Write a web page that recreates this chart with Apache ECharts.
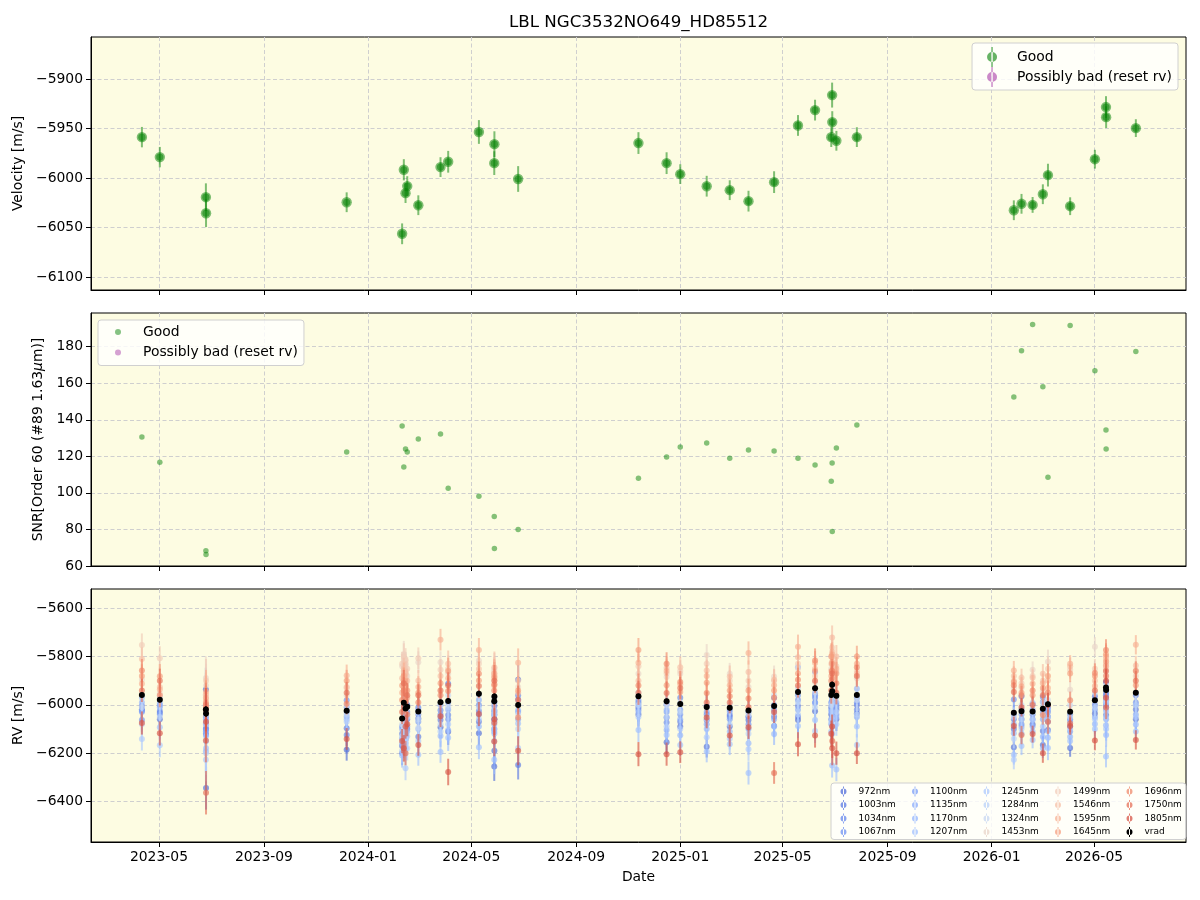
<!DOCTYPE html>
<html><head><meta charset="utf-8">
<script src="https://cdn.jsdelivr.net/npm/echarts@6/dist/echarts.min.js"></script>
<style>html,body{margin:0;padding:0;background:#fff}#c{width:1200px;height:900px}</style>
</head><body><div id="c"></div>
<script>
// ---------------- DATA ----------------
const dates = ['2023-04-11','2023-05-02','2023-06-25T00','2023-06-25T04','2023-12-07','2024-02-10','2024-02-12','2024-02-14','2024-02-16','2024-02-29',
  '2024-03-26','2024-04-04','2024-05-10','2024-05-28T00','2024-05-28T04','2024-06-25','2024-11-13','2024-12-16','2025-01-01','2025-02-01',
  '2025-02-28','2025-03-22','2025-04-21','2025-05-19','2025-06-08','2025-06-27','2025-06-28T00','2025-06-28T04','2025-07-03','2025-07-27',
  '2026-01-27','2026-02-05','2026-02-18','2026-03-02','2026-03-08','2026-04-03','2026-05-02','2026-05-15T00','2026-05-15T04','2026-06-19'];
const velocity = [-5958.7,-5978.9,-6019.4,-6035.6,-6024.5,-6056.4,-5991.7,-6015.3,-6008.2,-6027.5,
  -5989.0,-5983.6,-5953.5,-5985.0,-5965.8,-6001.0,-5964.7,-5985.0,-5996.1,-6008.3,
  -6012.3,-6023.4,-6004.2,-5946.9,-5931.4,-5958.7,-5916.2,-5943.5,-5962.4,-5958.7,
  -6032.6,-6026.1,-6027.2,-6016.4,-5997.1,-6028.5,-5981.0,-5928.3,-5938.5,-5949.6];
const velocityErr = [10.3,10.3,14,14,10,10.5,10.7,10,10,10, 10,11,12,12,13,13,11,11,10,10.5,
  10,10.5,11,10.5,10.5,10,12.6,11,10,10, 10,10,8,10,11.5,9,9.5,11,11,9];
const snr = [130.5,116.8,68.3,66.3,122.3,136.6,114.1,124.0,122.3,129.5, 132.2,102.5,98.1,87.1,69.6,80.0,108.0,119.6,125.1,127.3,
  119.0,123.4,122.9,119.0,115.2,106.4,116.3,78.9,124.5,137.1, 152.5,177.8,192.1,158.0,108.6,191.5,166.8,134.4,124.0,177.3];

const bandNames = ['972nm','1003nm','1034nm','1067nm','1100nm','1135nm','1170nm','1207nm','1245nm','1284nm','1324nm','1453nm','1499nm','1546nm','1595nm','1645nm','1696nm','1750nm','1805nm'];
const rv972  = [-6019,-6060,-5936,-6344,-6186,-6170,-6060,-6130,-6100,-6056,-6093,-6111,-6118,-6255,-6190,-5896,-6040,-6155,-6090,-6173,-6090,-6063,-6088,-6063,-6026,-6040,-6000,-6050,-6060,-6036,-6175,-6060,-6080,-6166,-6104,-6179,-6036,-5905,-6042,-6060];
const rv1003 = [-6025,-6033,-6050,-6080,-6097,-6120,-6020,-6050,-6000,-6132,-6063,-5912,-6070,-6042,-6005,-6249,-6011,-6052,-6070,-6063,-6042,-6049,-6049,-6049,-5953,-6010,-5960,-5990,-6020,-6001,-6100,-5964,-5995,-6108,-6049,-6090,-5964,-5960,-5980,-6019];
const rv1034 = [-6005,-6025,-6100,-6125,-6125,-6200,-6080,-6100,-6060,-6011,-6022,-6042,-6025,-6100,-6030,-5960,-5990,-6073,-5970,-6005,-6049,-6030,-5970,-6005,-5990,-6060,-5990,-6030,-6000,-6020,-6060,-6020,-6040,-5988,-6010,-6060,-6000,-6000,-5950,-5960];
const rv1067 = [-6063,-6000,-6120,-6097,-5981,-6090,-6000,-6030,-6030,-6040,-6040,-6060,-6000,-6022,-6060,-5978,-6020,-5997,-6040,-6040,-6020,-6080,-6020,-5980,-5970,-5990,-5950,-5970,-6040,-5990,-5978,-6080,-6060,-5967,-6030,-6040,-5980,-5940,-6010,-5990];
const rv1100 = [-6020,-6040,-6075,-6105,-6010,-6140,-6040,-6180,-6090,-6070,-6000,-5990,-6040,-6060,-5990,-6030,-5981,-6030,-6020,-6030,-6060,-6050,-6000,-5960,-5960,-6020,-5980,-6000,-6010,-5970,-6040,-6040,-6020,-6030,-6070,-6110,-6020,-5990,-5970,-6000];
const rv1135 = [-6030,-6010,-6110,-6150,-6049,-6100,-6110,-6070,-6050,-6020,-6050,-6020,-5980,-6111,-6070,-6060,-6000,-6104,-6060,-6080,-6030,-6100,-6060,-6020,-5992,-6080,-6030,-6060,-5990,-6050,-6080,-6090,-6090,-6060,-6020,-6070,-6050,-6020,-6060,-6040];
const rv1170 = [-5990,-5992,-6193,-6060,-6030,-6160,-6010,-6140,-6110,-6100,-6129,-6104,-6090,-6080,-6040,-6022,-6030,-6020,-6126,-6100,-6110,-6159,-6121,-5844,-5864,-6030,-6000,-6090,-6050,-5933,-6118,-6120,-6110,-6132,-6136,-6132,-6079,-6084,-6125,-6081];
const rv1207 = [-5970,-6093,-6060,-6180,-6060,-6210,-6100,-6160,-6040,-6207,-6195,-6136,-6175,-6227,-6120,-6077,-6104,-6125,-6166,-6193,-6163,-6282,-6090,-6088,-6063,-6110,-6251,-6120,-6268,-6090,-6207,-6170,-6145,-6180,-6179,-6150,-6100,-6214,-6100,-6110];
const rv1245 = [-6141,-6167,-6227,-6130,-6070,-6190,-6150,-6262,-6130,-6150,-6110,-6080,-6060,-6150,-6100,-6179,-6050,-6090,-6100,-6134,-6140,-6184,-6036,-6040,-6108,-6070,-6060,-6050,-6080,-6166,-6227,-6100,-6063,-6090,-6110,-6100,-6060,-6050,-6030,-6050];
const rv1284 = [-6080,-6050,-6000,-6200,-6040,-6130,-6070,-6110,-6180,-6060,-6080,-6010,-6010,-6040,-6020,-6100,-6000,-6050,-6030,-6060,-6080,-6120,-6010,-5990,-6010,-6000,-5970,-5990,-6030,-6040,-6140,-6060,-6030,-6040,-6050,-6050,-6010,-5990,-5980,-6000];
const rv1324 = [-6010,-5970,-6080,-6040,-6000,-6080,-5950,-6020,-6050,-6095,-6000,-5960,-5960,-5990,-5970,-6040,-5950,-6000,-5990,-6010,-6000,-6040,-5960,-5930,-5950,-5960,-5920,-5940,-5970,-5980,-6050,-6000,-5990,-5990,-5980,-6000,-5950,-5940,-5920,-5950];
const rv1453 = [-5896,-5953,-5889,-5920,-5960,-5840,-5790,-5830,-5880,-5823,-5823,-5871,-5816,-5880,-5850,-5926,-5871,-5885,-5871,-5793,-5871,-5926,-5882,-5850,-5905,-5850,-5800,-5830,-5860,-5890,-5930,-5930,-5855,-5942,-5821,-5937,-5759,-5878,-5860,-5858];
const rv1499 = [-5752,-5807,-5960,-5900,-5930,-5830,-5800,-5815,-5850,-5807,-5855,-5850,-5830,-5860,-5870,-5900,-5840,-5870,-5860,-5830,-5900,-5900,-5900,-5830,-5880,-5830,-5762,-5800,-5840,-5860,-5900,-5910,-5880,-5900,-5850,-5855,-5850,-5850,-5830,-5880];
const rv1546 = [-5810,-5926,-5956,-5975,-5926,-5890,-5860,-5870,-5900,-5900,-5880,-5830,-5851,-5899,-5844,-5950,-5900,-5847,-5844,-5858,-5882,-5864,-5896,-5803,-5850,-5860,-5721,-5780,-5800,-5870,-5880,-5888,-5888,-5871,-5899,-5840,-5900,-5810,-5840,-5837];
const rv1595 = [-5912,-5936,-5970,-5945,-5878,-5950,-5880,-5920,-5970,-5926,-5730,-5890,-5773,-5870,-5880,-5826,-5826,-5860,-5915,-5880,-5919,-5785,-5919,-5759,-5827,-5880,-5790,-5820,-5850,-5830,-5858,-5923,-5912,-5910,-5930,-5830,-5922,-5837,-5800,-5751];
const rv1645 = [-5880,-5881,-5988,-5995,-5900,-5920,-5900,-5955,-5940,-5950,-5910,-5860,-5899,-5920,-5888,-5940,-5773,-5919,-5947,-5908,-5940,-5940,-5940,-5870,-5860,-5800,-5830,-5860,-5870,-5800,-5905,-5950,-5960,-5930,-5880,-5870,-5880,-5790,-5820,-5919];
const rv1696 = [-5858,-5960,-6000,-6010,-5995,-5980,-5940,-5985,-6040,-5990,-5960,-5942,-5871,-5940,-5915,-6052,-5920,-5830,-5905,-5951,-5964,-5974,-5970,-5896,-5816,-5900,-5860,-5890,-5910,-5844,-5919,-5960,-5940,-6042,-5950,-5981,-5868,-5773,-5880,-5860];
const rv1750 = [-5940,-5900,-6148,-6364,-5950,-6030,-5910,-6200,-5960,-5960,-5940,-5920,-5922,-6074,-5900,-5980,-5950,-5951,-5930,-5990,-5990,-6010,-6282,-5920,-5900,-5940,-5870,-6150,-5950,-5880,-5947,-6125,-6000,-5960,-6070,-6077,-5940,-5860,-6011,-5900];
const rv1805 = [-6075,-6118,-6020,-6070,-6141,-6150,-6180,-6090,-6080,-6166,-6047,-6278,-6038,-6152,-6060,-6190,-6204,-6204,-6196,-6052,-6127,-6093,-6030,-6163,-6127,-6120,-6090,-6180,-6200,-6200,-6088,-6010,-6121,-6200,-6000,-6088,-6148,-5970,-5900,-6145];
const bandErr = [48,50,90,90,45,50,55,50,50,45, 45,55,50,60,65,60,50,48,45,45,
  45,48,45,50,50,55,50,70,48,45, 40,38,35,40,50,36,40,45,48,40];

const xTickLabels = ['2023-05','2023-09','2024-01','2024-05','2024-09','2025-01','2025-05','2025-09','2026-01','2026-05'];
const yTicksVelocity = [-6100,-6050,-6000,-5950,-5900];
const yTicksSnr = [60,80,100,120,140,160,180];
const yTicksRv = [-6400,-6200,-6000,-5800,-5600];

// ---------------- STYLE ----------------
const bandSeries = [rv972,rv1003,rv1034,rv1067,rv1100,rv1135,rv1170,rv1207,rv1245,rv1284,rv1324,rv1453,rv1499,rv1546,rv1595,rv1645,rv1696,rv1750,rv1805];
const bandColors = ['#4f6bd9','#5a78e3','#6485ec','#6f91f3','#7a9ef8','#87aafc','#93b5ff','#a0c0ff','#adc9fd','#bad1f8','#c7d7f1',
  '#e9d5ca','#f1ccb9','#f6bfa6','#f7b093','#f59e7e','#ef896b','#e57058','#d75445'];
function rgba(hex, a){const n=parseInt(hex.slice(1),16);return 'rgba('+((n>>16)&255)+','+((n>>8)&255)+','+(n&255)+','+a+')';}
function ts(s){const p=s.split('T');const d=p[0].split('-').map(Number);const h=p[1]?Number(p[1]):0;return Date.UTC(d[0],d[1]-1,d[2],h);}
const xs = dates.map(ts);
const xTickValues = xTickLabels.map(s=>{const d=s.split('-').map(Number);return Date.UTC(d[0],d[1]-1,1);});
const xMin = Date.UTC(2023,1,10,8), xMax = Date.UTC(2026,7,16,19);
const FONT = 'DejaVu Sans';
const minus = v => String(v).replace('-', '\u2212');
const gridLine = {show:true, lineStyle:{color:'#cfcfcf', type:[4,2.5], width:1}};

function errRender(color, r, lw, inner){
  return function(params, api){
    const x=api.value(0), y=api.value(1), e=api.value(2);
    const p=api.coord([x,y]), p1=api.coord([x,y-e]), p2=api.coord([x,y+e]);
    const ch=[{type:'line', shape:{x1:p[0],y1:p1[1],x2:p[0],y2:p2[1]}, style:{stroke:color,lineWidth:lw}},
              {type:'circle', shape:{cx:p[0],cy:p[1],r:r}, style:{fill:color}}];
    if(inner) ch.push({type:'circle', shape:{cx:p[0],cy:p[1],r:inner}, style:{fill:color}});
    return {type:'group', children:ch};
  };
}

const grids = [
  {left:91, right:14, top:37, height:253},
  {left:91, right:14, top:313, height:253},
  {left:91, right:14, top:589, height:253}
].map(g=>Object.assign(g,{show:true, borderColor:'#000', borderWidth:1, backgroundColor:'#fdfce2'}));

function xAxis(i){
  return {type:'value', gridIndex:i, min:xMin, max:xMax,
    axisLine:{show:true, lineStyle:{color:'#000'}},
    axisTick:{show:true, length:5, customValues:xTickValues, lineStyle:{color:'#000'}},
    axisLabel:{show:i===2, customValues:xTickValues, margin:8, color:'#000', fontFamily:FONT, fontSize:13.9,
      formatter:v=>{const k=xTickValues.indexOf(v);return k>=0?xTickLabels[k]:'';}},
    splitLine:gridLine,
    name: i===2?'Date':'', nameLocation:'middle', nameGap:28, nameTextStyle:{color:'#000', fontFamily:FONT, fontSize:13.9}};
}
function yAxis(i, min, max, ticks, name, gap){
  return {type:'value', gridIndex:i, min:min, max:max,
    axisLine:{show:true, lineStyle:{color:'#000'}},
    axisTick:{show:true, length:5, customValues:ticks, lineStyle:{color:'#000'}},
    axisLabel:{customValues:ticks, margin:8, color:'#000', fontFamily:FONT, fontSize:13.9, formatter:minus},
    splitLine:gridLine,
    name:name, nameLocation:'middle', nameGap:gap,
    nameTextStyle:{color:'#000', fontFamily:FONT, fontSize:13.9, rich:{i:{fontStyle:'italic', fontFamily:FONT, fontSize:13.9, color:'#000'}}}};
}

const GOOD = 'rgba(0,128,0,0.5)';
const BAD = 'rgba(160,40,160,0.55)';
const errIcon = 'path://M4.3,0H5.7V20H4.3Z M0,10A5,5 0 1 0 10,10A5,5 0 1 0 0,10Z';
const dotIcon = 'path://M0,0A3,3 0 1 0 6,0A3,3 0 1 0 0,0Z';
const smallErrIcon = 'path://M2.5,0H3.5V10H2.5Z M0,5A3,3 0 1 0 6,5A3,3 0 1 0 0,5Z';

const series = [];
series.push({name:'Good', type:'custom', xAxisIndex:0, yAxisIndex:0, renderItem:errRender(GOOD,5.2,2,3.6),
  itemStyle:{color:GOOD}, encode:{x:0,y:1}, data:xs.map((x,k)=>[x,velocity[k],velocityErr[k]]), z:3});
series.push({name:'Possibly bad (reset rv)', type:'custom', xAxisIndex:0, yAxisIndex:0, renderItem:errRender(BAD,5,2), itemStyle:{color:BAD}, data:[]});
series.push({name:'SNR Good', type:'scatter', xAxisIndex:1, yAxisIndex:1, symbolSize:5.5,
  itemStyle:{color:'rgba(0,128,0,0.6)'}, data:xs.map((x,k)=>[x,snr[k]])});
series.push({name:'SNR Possibly bad (reset rv)', type:'scatter', xAxisIndex:1, yAxisIndex:1, symbolSize:5.5, itemStyle:{color:BAD}, data:[]});
bandSeries.forEach((arr,b)=>{
  const c = rgba(bandColors[b],0.65);
  series.push({name:bandNames[b], type:'custom', xAxisIndex:2, yAxisIndex:2, clip:true, renderItem:errRender(c,3,2),
    itemStyle:{color:c}, encode:{x:0,y:1}, data:xs.map((x,k)=>[x,arr[k],bandErr[k]]), z:2+b*0.01});
});
series.push({name:'vrad', type:'custom', xAxisIndex:2, yAxisIndex:2, renderItem:errRender('#000',3,1.5),
  itemStyle:{color:'#000'}, encode:{x:0,y:1}, data:xs.map((x,k)=>[x,velocity[k],velocityErr[k]]), z:4});

const bandLegendItems = bandNames.map((n,b)=>({name:n, icon:smallErrIcon, itemStyle:{color:rgba(bandColors[b],0.75)}}))
  .concat([{name:'vrad', icon:smallErrIcon, itemStyle:{color:'#000'}}]);
bandLegendItems.forEach((it,k)=>{ if(k<16) it.textStyle={width:51}; });

const legBox = {backgroundColor:'rgba(255,255,255,0.8)', borderColor:'#d0d0d0', borderWidth:1, borderRadius:3, selectedMode:false};
const option = {
  animation:false,
  backgroundColor:'#fff',
  textStyle:{fontFamily:FONT},
  graphic:[{type:'text', x:638.5, y:23, style:{text:'LBL NGC3532NO649_HD85512', fill:'#000', font:'16.7px "DejaVu Sans"', textAlign:'center', textVerticalAlign:'middle'}}],
  grid:grids,
  xAxis:[xAxis(0),xAxis(1),xAxis(2)],
  yAxis:[yAxis(0,-6113.2,-5857.5,yTicksVelocity,'Velocity [m/s]',62),
         yAxis(1,60,198.4,yTicksSnr,'SNR[Order 60 (#89 1.63{i|μ}m)]',45),
         yAxis(2,-6568,-5520,yTicksRv,'RV [m/s]',62)],
  legend:[
    Object.assign({right:22, top:43, orient:'vertical', itemGap:0, itemWidth:10, itemHeight:20, padding:[4,6,3,15],
      textStyle:{fontFamily:FONT, fontSize:13.9, color:'#000', lineHeight:16, padding:[0,0,0,15]},
      data:[{name:'Good', icon:errIcon, itemStyle:{color:'rgba(0,128,0,0.6)'}},
            {name:'Possibly bad (reset rv)', icon:errIcon, itemStyle:{color:BAD}}]}, legBox),
    Object.assign({left:98, top:320, orient:'vertical', itemGap:4.5, itemWidth:6, itemHeight:6, padding:[4,6,5,17],
      formatter:n=>n.replace('SNR ',''),
      textStyle:{fontFamily:FONT, fontSize:13.9, color:'#000', lineHeight:16, padding:[0,0,0,17]},
      data:[{name:'SNR Good', icon:dotIcon, itemStyle:{color:'rgba(0,128,0,0.6)'}},
            {name:'SNR Possibly bad (reset rv)', icon:dotIcon, itemStyle:{color:BAD}}]}, legBox),
    Object.assign({left:831, top:783, orient:'vertical', height:52, itemGap:2.5, itemWidth:6, itemHeight:10, padding:[3,4,2,9.5],
      textStyle:{fontFamily:FONT, fontSize:9, color:'#000', lineHeight:11, padding:[0,0,0,7]},
      data:bandLegendItems}, legBox)
  ],
  series:series
};
const chart = echarts.init(document.getElementById('c'), null, {renderer:'canvas'});
chart.setOption(option);
</script></body></html>
